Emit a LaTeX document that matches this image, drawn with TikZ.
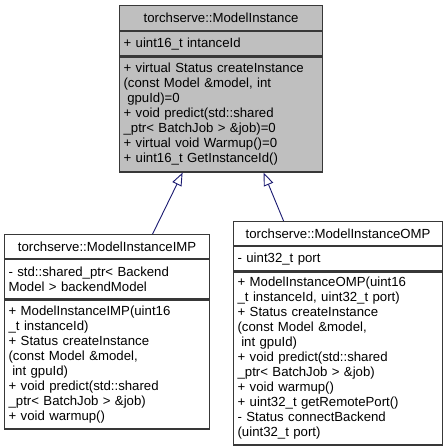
\documentclass[tikz,border=0pt]{standalone}
\usepackage{fontspec}
\setmainfont{Liberation Sans}
\usetikzlibrary{positioning,arrows.meta}
\definecolor{azulnoite}{RGB}{25,25,112}
\newcommand{\lead}{\hspace*{0.278em}}

\begin{document}
\begin{tikzpicture}[x=1pt, y=-1pt,
	parte/.style={draw=black!78, line width=1.2pt, inner xsep=4pt, inner ysep=0pt,
		font=\fontsize{13.2}{15}\selectfont, align=left, anchor=north west},
	titulo/.style={parte, align=center},
	base/.style={fill=black!25},
	heranca/.style={draw=azulnoite, line width=0.9pt,
		-{Triangle[open, length=13pt, width=10pt]}}
	]
	\useasboundingbox (0,0) rectangle (447,448);

	% classe base
	\node[titulo, base, text width=195pt, minimum height=25pt] (topo) at (119,5) {torchserve::ModelInstance};
	\node[parte, base, text width=195pt, minimum height=24pt, below=0pt of topo] (topoattr) {+ uint16\_t intanceId};
	\node[parte, base, text width=195pt, minimum height=115pt, below=0pt of topoattr] (topometodos) {+ virtual Status createInstance\\(const Model \&model, int\\\lead gpuId)=0\\+ void predict(std::shared\\\_ptr< BatchJob > \&job)=0\\+ virtual void Warmup()=0\\+ uint16\_t GetInstanceId()};

	% ModelInstanceIMP
	\node[titulo, text width=197pt, minimum height=24pt] (imp) at (4,234) {torchserve::ModelInstanceIMP};
	\node[parte, text width=197pt, minimum height=39pt, below=0pt of imp] (impattr) {- std::shared\_ptr< Backend\\Model > backendModel};
	\node[parte, text width=197pt, minimum height=129pt, below=0pt of impattr] (impmetodos) {+ ModelInstanceIMP(uint16\\\_t instanceId)\\+ Status createInstance\\(const Model \&model,\\\lead int gpuId)\\+ void predict(std::shared\\\_ptr< BatchJob > \&job)\\+ void warmup()};

	% ModelInstanceOMP
	\node[titulo, text width=201pt, minimum height=24pt] (omp) at (233,221) {torchserve::ModelInstanceOMP};
	\node[parte, text width=201pt, minimum height=24pt, below=0pt of omp] (ompattr) {- uint32\_t port};
	\node[parte, text width=201pt, minimum height=173pt, below=0pt of ompattr] (ompmetodos) {+ ModelInstanceOMP(uint16\\\_t instanceId, uint32\_t port)\\+ Status createInstance\\(const Model \&model,\\\lead int gpuId)\\+ void predict(std::shared\\\_ptr< BatchJob > \&job)\\+ void warmup()\\+ uint32\_t getRemotePort()\\- Status connectBackend\\(uint32\_t port)};

	\draw[heranca] ([xshift=45.5pt]imp.north) -- ([xshift=-38.5pt]topometodos.south);
	\draw[heranca] ([xshift=-54.5pt]omp.north) -- ([xshift=42.5pt]topometodos.south);
\end{tikzpicture}
\end{document}
